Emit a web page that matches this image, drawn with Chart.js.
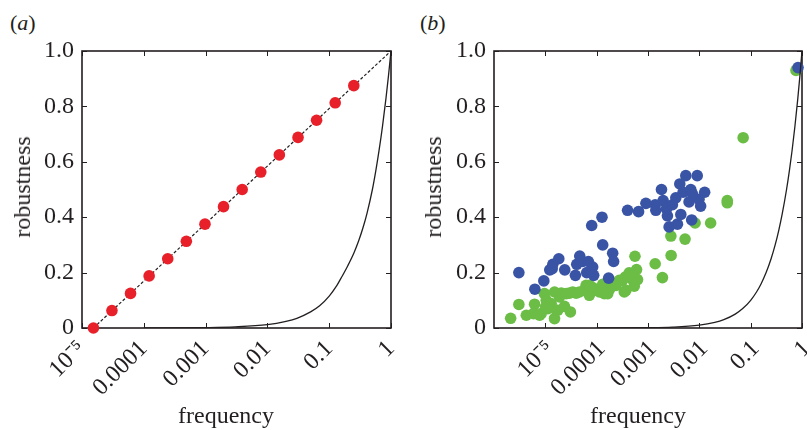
<!DOCTYPE html>
<html>
<head>
<meta charset="utf-8">
<script src="https://cdn.jsdelivr.net/npm/chart.js@4/dist/chart.umd.min.js"></script>
<style>
  html, body { margin:0; padding:0; background:#fff; width:807px; height:430px; overflow:hidden; position:relative }
  .panel { position:absolute; top:0 }
  .lbl { position:absolute; font-family:"Liberation Serif", serif; font-size:24px; line-height:24px; color:#231f20; white-space:nowrap }
  .tag { font-size:22px; line-height:22px }
</style>
</head>
<body>
<div class="lbl tag" style="left:10px;top:12px">(<i>a</i>)</div>
<div class="lbl tag" style="left:420px;top:12px">(<i>b</i>)</div>

<div class="panel" style="left:0;width:400px;height:430px"><canvas id="chartA" width="400" height="430"></canvas></div>
<div class="panel" style="left:410px;width:420px;height:430px"><canvas id="chartB" width="420" height="430"></canvas></div>

<div class="lbl" style="left:226px;top:403px;transform:translateX(-50%)">frequency</div>
<div class="lbl" style="left:638px;top:403px;transform:translateX(-50%)">frequency</div>
<div class="lbl" style="left:22px;top:187px;transform:translate(-50%,-50%) rotate(-90deg)">robustness</div>
<div class="lbl" style="left:433px;top:187px;transform:translate(-50%,-50%) rotate(-90deg)">robustness</div>

<script>
// ---- axis ticks ----
const xTicksA = [1e-5, 1e-4, 1e-3, 1e-2, 0.1, 1];
const xTicksB = [1e-5, 1e-4, 1e-3, 1e-2, 0.1, 1];
const xTickLabels = ['10\u207B\u2075', '0.0001', '0.001', '0.01', '0.1', '1'];
const yTicks = [0, 0.2, 0.4, 0.6, 0.8, 1.0];
const yTickLabels = ['0', '0.2', '0.4', '0.6', '0.8', '1.0'];

// ---- panel (a) ----
const redX = [1.53e-5, 3.05e-5, 6.1e-5, 1.22e-4, 2.44e-4, 4.88e-4, 9.77e-4, 1.95e-3, 3.91e-3, 7.81e-3, 0.0156, 0.0313, 0.0625, 0.125, 0.25];
const redY = [0, 0.063, 0.125, 0.188, 0.25, 0.313, 0.375, 0.438, 0.5, 0.563, 0.625, 0.688, 0.75, 0.813, 0.875];
const diagX = [1.53e-5, 1];
const diagY = [0, 1];
const curveAX = [1e-4, 0.001, 0.003, 0.01, 0.02, 0.03, 0.05, 0.07, 0.1, 0.13, 0.16, 0.2, 0.25, 0.3, 0.35, 0.41, 0.5, 0.57, 0.64, 0.73, 0.83, 0.91, 1];
const curveAY = [0.0002, 0.0015, 0.004, 0.012, 0.024, 0.035, 0.058, 0.08, 0.115, 0.15, 0.185, 0.225, 0.27, 0.315, 0.36, 0.415, 0.5, 0.57, 0.64, 0.73, 0.83, 0.91, 1];

// ---- panel (b) ----
const blueX = [3.05e-6, 6.25e-6, 9.35e-6, 1.22e-5, 1.4e-5, 1.83e-5, 2.39e-5, 3.85e-5, 4.09e-5, 4.68e-5, 5.35e-5, 6.9e-5, 6.4e-5, 8.36e-5, 8.75e-5,
  8.0e-5, 1.27e-4, 1.31e-4, 2.05e-4, 2.14e-4, 1.71e-4, 4.0e-4, 6.55e-4, 9.1e-4, 1.38e-3, 1.42e-3, 1.83e-3, 1.97e-3, 2.29e-3, 2.39e-3,
  2.58e-3, 2.99e-3, 3.48e-3, 3.74e-3, 4.16e-3, 4.36e-3, 4.82e-3, 5.45e-3, 6.3e-3, 6.8e-3, 7.3e-3, 7.1e-3, 9.1e-3, 9.86e-3, 0.0106,
  0.0127, 1.36e-5, 0.836];
const blueY = [0.20, 0.14, 0.17, 0.21, 0.23, 0.25, 0.21, 0.19, 0.23, 0.26, 0.24, 0.24, 0.20, 0.22, 0.19,
  0.37, 0.40, 0.30, 0.27, 0.24, 0.18, 0.425, 0.42, 0.45, 0.445, 0.425, 0.50, 0.46, 0.43, 0.405,
  0.365, 0.445, 0.47, 0.375, 0.52, 0.41, 0.49, 0.55, 0.455, 0.50, 0.485, 0.39, 0.55, 0.465, 0.44,
  0.49, 0.214, 0.94];
const greenX = [2.11e-6, 3.05e-6, 4.26e-6, 6.17e-6, 5.9e-6, 8.3e-6, 9.6e-6, 1.04e-5, 1.12e-5, 1.3e-5, 1.51e-5, 1.51e-5, 1.89e-5, 1.75e-5, 2.04e-5,
  2.36e-5, 3.08e-5, 2.95e-5, 3.98e-5, 5.77e-5, 6.22e-5, 7.2e-5, 8.36e-5, 1.04e-4, 1.31e-4, 1.41e-4, 1.77e-4, 2.05e-4, 2.38e-4, 2.76e-4,
  3.45e-4, 3.6e-4, 4.3e-4, 5.0e-4, 5.4e-4, 5.98e-4, 6.25e-4, 5.57e-4, 1.38e-3, 1.91e-3, 2.79e-3, 2.82e-3, 5.27e-3, 8.26e-3, 0.0166,
  0.035, 0.035, 0.0714, 7.74e-6, 1.01e-5, 1.63e-5, 2.55e-5, 3.42e-5, 4.61e-5, 7.2e-5, 1.13e-4, 1.64e-4, 3.2e-4, 3.72e-4, 0.764];
const greenY = [0.035, 0.085, 0.046, 0.086, 0.052, 0.052, 0.124, 0.10, 0.07, 0.088, 0.034, 0.13, 0.112, 0.064, 0.126,
  0.078, 0.058, 0.126, 0.126, 0.136, 0.154, 0.118, 0.146, 0.136, 0.158, 0.124, 0.139, 0.162, 0.154, 0.172,
  0.13, 0.184, 0.199, 0.175, 0.151, 0.211, 0.175, 0.259, 0.232, 0.182, 0.332, 0.262, 0.321, 0.379, 0.379,
  0.46, 0.452, 0.687, 0.046, 0.076, 0.064, 0.124, 0.13, 0.13, 0.154, 0.13, 0.124, 0.172, 0.136, 0.93];
const curveBX = [1e-4, 0.001, 0.003, 0.01, 0.02, 0.03, 0.05, 0.07, 0.1, 0.13, 0.16, 0.2, 0.25, 0.3, 0.35, 0.41, 0.5, 0.57, 0.64, 0.73, 0.83, 0.91, 1];
const curveBY = [0.0001, 0.001, 0.003, 0.01, 0.02, 0.03, 0.05, 0.07, 0.1, 0.13, 0.16, 0.2, 0.25, 0.3, 0.35, 0.41, 0.5, 0.57, 0.64, 0.73, 0.83, 0.91, 1];

const INK = '#231f20';
const FONT = 'Liberation Serif';

function pts(xs, ys) { return xs.map((x, i) => ({ x, y: ys[i] })); }

// box round the plot + inward tick marks on all four sides
const frameTicks = {
  id: 'frameTicks',
  beforeDatasetsDraw(chart) {
    const { ctx, chartArea: a, scales } = chart;
    const len = 5;
    ctx.save();
    ctx.strokeStyle = INK;
    ctx.lineWidth = 1;
    ctx.beginPath();
    scales.x.ticks.forEach(t => {
      const px = Math.round(scales.x.getPixelForValue(t.value)) + 0.5;
      ctx.moveTo(px, a.bottom); ctx.lineTo(px, a.bottom - len);
      ctx.moveTo(px, a.top); ctx.lineTo(px, a.top + len);
    });
    scales.y.ticks.forEach(t => {
      const py = Math.round(scales.y.getPixelForValue(t.value)) + 0.5;
      ctx.moveTo(a.left, py); ctx.lineTo(a.left + len, py);
      ctx.moveTo(a.right, py); ctx.lineTo(a.right - len, py);
    });
    ctx.stroke();
    ctx.lineWidth = 1.6;
    ctx.strokeRect(a.left, a.top, a.right - a.left, a.bottom - a.top);
    ctx.restore();
  }
};

function makeOptions(xMin, xTicks, yWidth, padRight, labelShift) {
  return {
    responsive: false,
    animation: false,
    layout: { padding: { left: 0, right: padRight, top: 51, bottom: 0 } },
    plugins: { legend: { display: false }, tooltip: { enabled: false } },
    scales: {
      x: {
        type: 'logarithmic', min: xMin, max: 1,
        grid: { display: false, drawTicks: false }, border: { display: false },
        afterBuildTicks: s => { s.ticks = xTicks.map(v => ({ value: v })); },
        // fixed height, and no extra side padding for the rotated labels
        afterFit: s => { s.height = 102; s.paddingLeft = 0; s.paddingRight = 0; },
        ticks: {
          autoSkip: false, minRotation: 45, maxRotation: 45, padding: 7, labelOffset: labelShift,
          color: INK, font: { family: FONT, size: 24 },
          callback: (v) => xTickLabels[xTicksA.indexOf(v)] ?? '',
        },
      },
      y: {
        min: 0, max: 1,
        grid: { display: false, drawTicks: false }, border: { display: false },
        afterBuildTicks: s => { s.ticks = yTicks.map(v => ({ value: v })); },
        afterFit: s => { s.width = yWidth; s.paddingTop = 0; s.paddingBottom = 0; },
        ticks: {
          padding: 8, color: INK, font: { family: FONT, size: 24 },
          callback: (v) => yTickLabels[yTicks.indexOf(v)] ?? '',
        },
      },
    },
  };
}

new Chart(document.getElementById('chartA'), {
  type: 'scatter',
  data: {
    datasets: [
      { data: pts(curveAX, curveAY), showLine: true, borderColor: INK, borderWidth: 1.3, pointRadius: 0, cubicInterpolationMode: 'monotone' },
      { data: pts(redX, redY), pointRadius: 5.8, pointBackgroundColor: '#e8202a', pointBorderWidth: 0, showLine: false, clip: false },
      { data: pts(diagX, diagY), showLine: true, borderColor: INK, borderWidth: 1.2, borderDash: [3, 2], pointRadius: 0 },
    ],
  },
  options: makeOptions(1e-5, xTicksA, 82, 9, 0),
  plugins: [frameTicks],
});

new Chart(document.getElementById('chartB'), {
  type: 'scatter',
  data: {
    datasets: [
      { data: pts(curveBX, curveBY), showLine: true, borderColor: INK, borderWidth: 1.3, pointRadius: 0, cubicInterpolationMode: 'monotone' },
      { data: pts(blueX, blueY), pointRadius: 5.8, pointBackgroundColor: '#3a54a5', pointBorderWidth: 0, showLine: false, clip: false },
      { data: pts(greenX, greenY), pointRadius: 5.8, pointBackgroundColor: '#6bbd46', pointBorderWidth: 0, showLine: false, clip: false },
    ],
  },
  options: makeOptions(1e-6, xTicksB, 84, 28, 5),
  plugins: [frameTicks],
});
</script>
</body>
</html>
